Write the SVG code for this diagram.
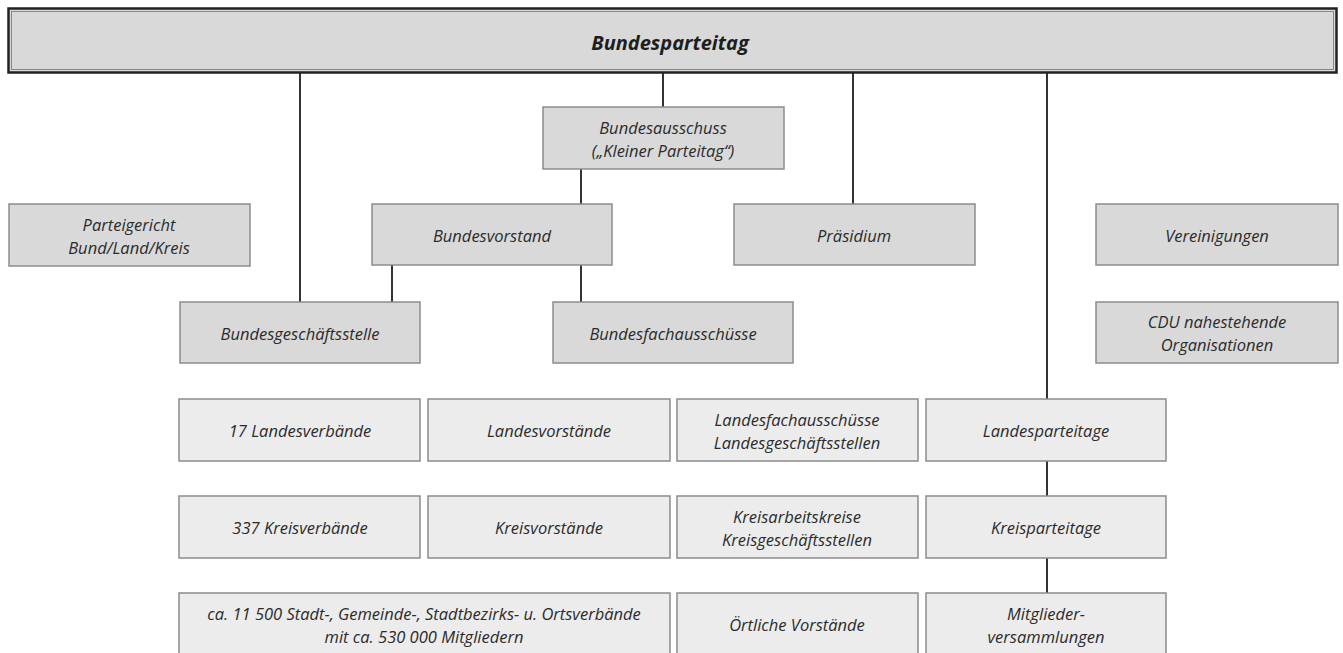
<svg xmlns="http://www.w3.org/2000/svg" width="1343" height="653" viewBox="0 0 1343 653">
<style>
.b{fill:#d9d9d9;stroke:#8c8c8c;stroke-width:1.5}
.l{fill:#ececec;stroke:#8c8c8c;stroke-width:1.5}
text{font-family:"Open Sans","Noto Sans",sans-serif;font-style:italic;font-size:16.5px;fill:#2b2b2b;text-anchor:middle;dominant-baseline:central}
.t{font-weight:bold;font-size:20px;fill:#1e1e1e}
#conn line{stroke:#333;stroke-width:2}
</style>
<rect width="1343" height="653" fill="#fff"/>
<g id="conn">
<line x1="300" y1="72" x2="300" y2="302"/>
<line x1="663" y1="72" x2="663" y2="107"/>
<line x1="853" y1="72" x2="853" y2="204"/>
<line x1="1047" y1="72" x2="1047" y2="399"/>
<line x1="581" y1="169" x2="581" y2="204"/>
<line x1="392" y1="265" x2="392" y2="302"/>
<line x1="581" y1="265" x2="581" y2="302"/>
<line x1="1047" y1="461" x2="1047" y2="496"/>
<line x1="1047" y1="558" x2="1047" y2="593"/>
</g>
<g id="bundesparteitag">
<rect x="8.5" y="8.5" width="1328" height="64" fill="#d9d9d9" stroke="#222" stroke-width="2.5"/>
<rect x="11.5" y="11.5" width="1322" height="58" fill="none" stroke="#888" stroke-width="1"/>
<text class="t" x="670" y="42">Bundesparteitag</text>
</g>
<g id="bundesausschuss"><rect class="b" x="543" y="107" width="241" height="62"/><text x="663" y="127">Bundesausschuss</text><text x="663" y="150">(„Kleiner Parteitag“)</text></g>
<g id="parteigericht"><rect class="b" x="9" y="204" width="241" height="62"/><text x="129" y="224">Parteigericht</text><text x="129" y="247">Bund/Land/Kreis</text></g>
<g id="bundesvorstand"><rect class="b" x="372" y="204" width="240" height="61"/><text x="492" y="235">Bundesvorstand</text></g>
<g id="praesidium"><rect class="b" x="734" y="204" width="241" height="61"/><text x="854" y="235">Präsidium</text></g>
<g id="vereinigungen"><rect class="b" x="1096" y="204" width="242" height="61"/><text x="1217" y="235">Vereinigungen</text></g>
<g id="bundesgeschaeftsstelle"><rect class="b" x="180" y="302" width="240" height="61"/><text x="300" y="333">Bundesgeschäftsstelle</text></g>
<g id="bundesfachausschuesse"><rect class="b" x="553" y="302" width="240" height="61"/><text x="673" y="333">Bundesfachausschüsse</text></g>
<g id="cdu-nahe"><rect class="b" x="1096" y="302" width="242" height="61"/><text x="1217" y="321">CDU nahestehende</text><text x="1217" y="344">Organisationen</text></g>
<g id="landesverbaende"><rect class="l" x="179" y="399" width="241" height="62"/><text x="300" y="430">17 Landesverbände</text></g>
<g id="landesvorstaende"><rect class="l" x="428" y="399" width="242" height="62"/><text x="549" y="430">Landesvorstände</text></g>
<g id="landesfach"><rect class="l" x="677" y="399" width="241" height="62"/><text x="797" y="419">Landesfachausschüsse</text><text x="797" y="442">Landesgeschäftsstellen</text></g>
<g id="landesparteitage"><rect class="l" x="926" y="399" width="240" height="62"/><text x="1046" y="430">Landesparteitage</text></g>
<g id="kreisverbaende"><rect class="l" x="179" y="496" width="241" height="62"/><text x="300" y="527">337 Kreisverbände</text></g>
<g id="kreisvorstaende"><rect class="l" x="428" y="496" width="242" height="62"/><text x="549" y="527">Kreisvorstände</text></g>
<g id="kreisarbeitskreise"><rect class="l" x="677" y="496" width="241" height="62"/><text x="797" y="516">Kreisarbeitskreise</text><text x="797" y="539">Kreisgeschäftsstellen</text></g>
<g id="kreisparteitage"><rect class="l" x="926" y="496" width="240" height="62"/><text x="1046" y="527">Kreisparteitage</text></g>
<g id="ortsverbaende"><rect class="l" x="179" y="593" width="491" height="64"/><text x="424" y="613">ca. 11 500 Stadt-, Gemeinde-, Stadtbezirks- u. Ortsverbände</text><text x="424" y="636">mit ca. 530 000 Mitgliedern</text></g>
<g id="oertliche"><rect class="l" x="677" y="593" width="241" height="64"/><text x="797" y="624">Örtliche Vorstände</text></g>
<g id="mitglieder"><rect class="l" x="926" y="593" width="240" height="64"/><text x="1046" y="613">Mitglieder-</text><text x="1046" y="636">versammlungen</text></g>
</svg>
